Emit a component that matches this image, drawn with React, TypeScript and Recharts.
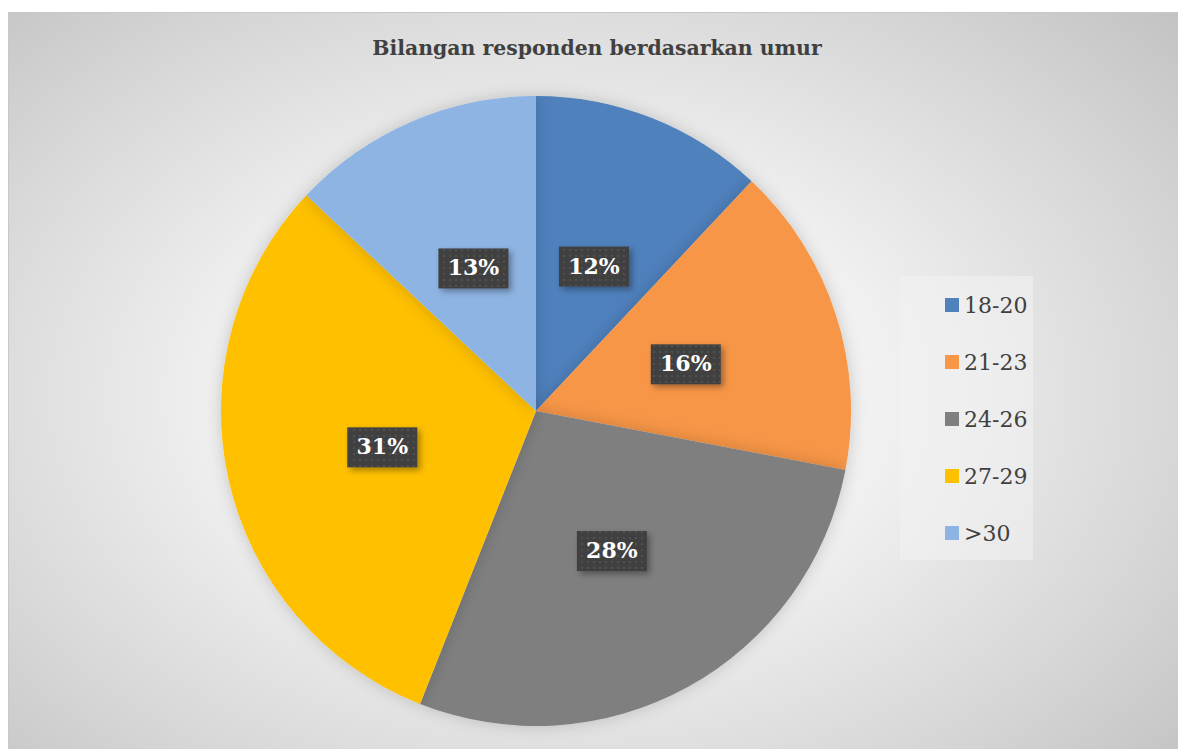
import { PieChart, Pie, Cell } from 'recharts';

const categories = ['18-20', '21-23', '24-26', '27-29', '>30'];
const shares = [12, 16, 28, 31, 13];
const colors = ['#4f81bd', '#f79646', '#7f7f7f', '#ffc000', '#8eb4e3'];

const data = categories.map((name, i) => ({ name, value: shares[i] }));

const RAD = Math.PI / 180;
const serif = "'DejaVu Serif', 'Liberation Serif', serif";

function renderLabel(props: any) {
  const { cx, cy, midAngle, outerRadius, value } = props;
  const r = outerRadius * 0.5;
  const x = cx + r * Math.cos(-midAngle * RAD);
  const y = cy + r * Math.sin(-midAngle * RAD) + 2;
  const w = 70;
  const h = 40;
  return (
    <g>
      <rect x={x - w / 2} y={y - h / 2} width={w} height={h} fill="#404040" filter="url(#lblShadow)" />
      <rect x={x - w / 2} y={y - h / 2} width={w} height={h} fill="url(#dots)" />
      <text
        x={x}
        y={y + 1}
        textAnchor="middle"
        dominantBaseline="middle"
        fill="#ffffff"
        fontFamily={serif}
        fontWeight="bold"
        fontSize={22}
      >
        {value}%
      </text>
    </g>
  );
}

export default function App() {
  return (
    <div
      style={{
        position: 'absolute',
        left: 8,
        top: 12,
        width: 1170,
        height: 737,
        boxSizing: 'border-box',
        borderTop: '1px solid #c8c8c8',
        borderLeft: '1px solid #c8c8c8',
        background:
          'radial-gradient(ellipse 72% 78% at 47% 52%, #ffffff 0%, #f0f0f0 40%, #d6d6d6 75%, #c2c2c2 100%)',
        overflow: 'hidden',
      }}
    >
      <div
        style={{
          position: 'absolute',
          left: 0,
          top: 23,
          width: 1176,
          textAlign: 'center',
          fontFamily: serif,
          fontWeight: 'bold',
          fontSize: 20.4,
          color: '#404040',
        }}
      >
        Bilangan responden berdasarkan umur
      </div>
      <div
        style={{
          position: 'absolute',
          left: 891,
          top: 263,
          width: 133,
          height: 284,
          background: 'rgba(242,242,242,0.55)',
        }}
      />
      {categories.map((c, i) => (
        <div
          key={c}
          style={{
            position: 'absolute',
            left: 936,
            top: 277 + i * 57,
            height: 30,
            display: 'flex',
            alignItems: 'center',
            fontFamily: serif,
            fontSize: 22,
            color: '#404040',
          }}
        >
          <span style={{ display: 'inline-block', width: 14, height: 14, background: colors[i], marginRight: 5 }} />
          {c}
        </div>
      ))}
      <PieChart width={1170} height={737} style={{ position: 'absolute', left: 0, top: 0 }}>
        <defs>
          <filter id="pieShadow" x="-20%" y="-20%" width="140%" height="140%">
            <feDropShadow dx="0" dy="0" stdDeviation="8" floodColor="#000" floodOpacity="0.18" />
          </filter>
          <filter id="lblShadow" x="-30%" y="-30%" width="160%" height="160%">
            <feDropShadow dx="3" dy="3" stdDeviation="3" floodColor="#000" floodOpacity="0.35" />
          </filter>
          <pattern id="dots" width="6" height="6" patternUnits="userSpaceOnUse">
            <circle cx="3" cy="3" r="1" fill="#555555" />
          </pattern>
        </defs>
        <Pie
          data={data}
          dataKey="value"
          nameKey="name"
          cx={522}
          cy={393}
          outerRadius={315}
          startAngle={90}
          endAngle={-270}
          stroke="none"
          label={renderLabel}
          labelLine={false}
          isAnimationActive={false}
          style={{ filter: 'url(#pieShadow)' }}
        >
          {data.map((d, i) => (
            <Cell key={d.name} fill={colors[i]} />
          ))}
        </Pie>
      </PieChart>
    </div>
  );
}
